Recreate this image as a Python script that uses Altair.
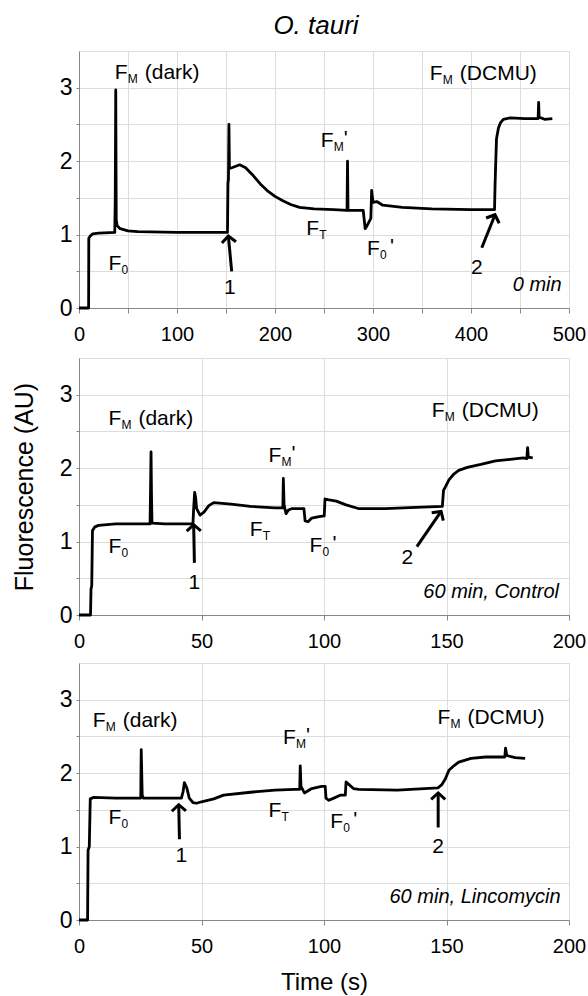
import math
import altair as alt
import pandas as pd

FONT = "Liberation Sans"

# ---------------- Trace data ----------------
# Panel 1: 0 min
t1 = [0, 9.8, 10, 11.5, 14, 20, 36.5, 37, 37.5, 38, 39, 42, 50, 60, 100, 151.5,
      152, 152.5, 153, 153.5, 156, 160, 164, 170, 178, 185, 192, 200, 208, 216,
      225, 240, 260, 273.5, 274, 274.5, 278, 290, 292, 293, 295, 297, 297.8, 298.6,
      300, 303.8, 310, 330, 360, 400, 424, 424.6, 425.3, 426, 428, 430, 433, 440,
      455, 468.5, 469, 469.5, 475, 483]
f1 = [0, 0, 0.95, 0.98, 1.01, 1.02, 1.03, 1.5, 2.97, 1.2, 1.12, 1.08, 1.05, 1.04,
      1.03, 1.03, 1.7, 1.75, 2.5, 1.9, 1.91, 1.93, 1.95, 1.91, 1.8, 1.69, 1.6,
      1.52, 1.46, 1.41, 1.37, 1.35, 1.34, 1.33, 2.0, 1.33, 1.33, 1.33, 1.08, 1.1,
      1.15, 1.2, 1.22, 1.6, 1.44, 1.45, 1.4, 1.37, 1.35, 1.34, 1.34, 1.7, 2.0, 2.3,
      2.45, 2.52, 2.57, 2.59, 2.58, 2.58, 2.8, 2.6, 2.57, 2.58]

# Panel 2: 60 min, Control
t2 = [0, 4.7, 4.9, 5.2, 5.5, 6.5, 8, 15, 29, 29.2, 29.4, 29.6, 29.8, 35, 46.5,
      46.8, 47.2, 47.6, 48, 49.4, 51, 53, 55, 62, 70, 80, 83.2, 83.4, 83.7, 84.5,
      85.5, 87, 91.8, 92.3, 93.5, 95, 98, 100.1, 100.4, 101.5, 105, 109, 114, 125,
      140, 148.3, 148.8, 149.5, 151, 153, 155, 158.5, 164, 170, 176, 181.4, 182.8,
      183.1, 183.4, 185.2]
f2 = [0, 0, 0.35, 0.4, 1.15, 1.2, 1.22, 1.24, 1.24, 1.7, 2.22, 1.6, 1.25, 1.24,
      1.24, 1.45, 1.67, 1.6, 1.45, 1.36, 1.4, 1.49, 1.53, 1.51, 1.48, 1.46, 1.46,
      1.86, 1.5, 1.38, 1.43, 1.45, 1.45, 1.28, 1.27, 1.32, 1.34, 1.35, 1.58, 1.57,
      1.55, 1.5, 1.45, 1.45, 1.47, 1.48, 1.7, 1.74, 1.84, 1.92, 1.97, 2.01, 2.05,
      2.1, 2.12, 2.14, 2.13, 2.28, 2.15, 2.14]

# Panel 3: 60 min, Lincomycin
t3 = [0, 3.5, 3.7, 4.2, 4.6, 6, 15, 25.2, 25.4, 25.8, 26.3, 35, 41.8, 42.5, 43,
      44, 45, 46.5, 48, 50, 55, 59, 70, 80, 88, 90.1, 90.3, 90.6, 92, 95, 99,
      100.5, 100.8, 102, 104, 106.6, 108.7, 109, 110, 112, 114.2, 130, 146.5, 148,
      149.5, 151, 153, 155, 160, 166, 173.8, 174.1, 174.6, 178, 182.1]
f3 = [0, 0, 0.95, 1.0, 1.65, 1.67, 1.66, 1.66, 2.32, 1.7, 1.66, 1.66, 1.66, 1.75,
      1.87, 1.8, 1.66, 1.6, 1.59, 1.61, 1.65, 1.7, 1.74, 1.77, 1.78, 1.78, 2.1,
      1.82, 1.73, 1.79, 1.82, 1.82, 1.66, 1.63, 1.66, 1.7, 1.7, 1.88, 1.85, 1.79,
      1.78, 1.77, 1.8, 1.84, 1.92, 2.04, 2.1, 2.15, 2.2, 2.22, 2.22, 2.34, 2.24,
      2.21, 2.2]

# ---------------- Annotations ----------------
# F-labels: x, y of the "F", subscript, bracket text, prime
p1_fx = [36.5, 358, 30, 232, 246.6, 294]
p1_fy = [3.2, 3.18, 0.6, 1.08, 2.27, 0.81]
p2_fx = [12, 144, 12, 69.7, 77.3, 94.1]
p2_fy = [2.67, 2.78, 0.93, 1.16, 2.17, 0.94]
p3_fx = [5.6, 146.3, 12, 77.3, 83.3, 102.5]
p3_fy = [2.71, 2.75, 1.39, 1.48, 2.48, 1.33]
f_sub = ["M", "M", "0", "T", "M", "0"]
f_paren = ["(dark)", "(DCMU)", "", "", "", ""]
f_prime = ["", "", "", "", "'", "'"]

# Arrows: tail (x, y) -> tip (x, y), and number label
p1_arrow_tail_x = [155.8, 411]
p1_arrow_tail_y = [0.5, 0.82]
p1_arrow_tip_x = [152.4, 424.5]
p1_arrow_tip_y = [0.98, 1.27]
p1_num_x = [154, 406]
p1_num_y = [0.27, 0.545]

p2_arrow_tail_x = [47.1, 137.9]
p2_arrow_tail_y = [0.71, 0.93]
p2_arrow_tip_x = [46.8, 147.8]
p2_arrow_tip_y = [1.23, 1.41]
p2_num_x = [47.1, 134]
p2_num_y = [0.44, 0.77]

p3_arrow_tail_x = [41, 146.6]
p3_arrow_tail_y = [1.10, 1.26]
p3_arrow_tip_x = [40.7, 146.6]
p3_arrow_tip_y = [1.57, 1.73]
p3_num_x = [41.8, 146.6]
p3_num_y = [0.87, 0.99]
num_text = ["1", "2"]

cond_text = ["0 min", "60 min, Control", "60 min, Lincomycin"]
cond_x = [492.5, 195.9, 196.6]
cond_y = [0.31, 0.32, 0.32]

W, H = 490, 257
YMAX = 3.5


def panel(t, f, xmax, xlabel_step, fx, fy, atx, aty, apx, apy, nx, ny, cond, cx, cy,
          title=None, ytitle_visible=False, xtitle=None):
    xs = alt.Scale(domain=[0, xmax], nice=False, zero=False)
    ys = alt.Scale(domain=[0, YMAX], nice=False)
    xvals = list(range(0, xmax + 1, 50))
    xaxis = alt.Axis(values=xvals, tickSize=5, labelPadding=11, labelFontSize=20,
                     labelExpr=f"datum.value % {xlabel_step} === 0 ? format(datum.value, 'd') : ''",
                     title=xtitle if xtitle else None, titleFontSize=24, titlePadding=14,
                     titleFontWeight="normal", labelFlush=False)
    yaxis = alt.Axis(values=[i * 0.5 for i in range(0, 7)], tickSize=3, labelPadding=4,
                     labelFontSize=23,
                     labelExpr="datum.value % 1 === 0 ? format(datum.value, 'd') : ''",
                     title="Fluorescence (AU)", titleFontSize=25, titlePadding=22,
                     titleFontWeight="normal",
                     titleOpacity=1 if ytitle_visible else 0)
    X = lambda field: alt.X(field, type="quantitative", scale=xs, axis=xaxis)
    Y = lambda field: alt.Y(field, type="quantitative", scale=ys, axis=yaxis)

    trace = pd.DataFrame({"t": t, "f": f})
    line = alt.Chart(trace).mark_line(color="black", strokeWidth=2.8, strokeJoin="round").encode(
        x=X("t"), y=Y("f"), order="t:Q")

    lab = pd.DataFrame({"x": fx, "y": fy, "sub": f_sub, "paren": f_paren, "prime": f_prime})
    base = alt.Chart(lab).encode(x=alt.X("x:Q", scale=xs), y=alt.Y("y:Q", scale=ys))
    tF = base.mark_text(text="F", align="left", baseline="middle", font=FONT, fontSize=21, color="black")
    tSub = base.mark_text(align="left", baseline="middle", font=FONT, fontSize=12, dx=13, dy=6,
                          color="black").encode(text="sub:N")
    tPar = base.mark_text(align="left", baseline="middle", font=FONT, fontSize=21, dx=30,
                          color="black").encode(text="paren:N")
    tPr = base.mark_text(align="left", baseline="middle", font=FONT, fontSize=21, dx=23, dy=-2,
                         color="black").encode(text="prime:N")

    sx = W / xmax
    sy = H / YMAX
    ang = []
    for a, b, c, d in zip(atx, aty, apx, apy):
        vx = (c - a) * sx
        vy = (d - b) * sy
        ang.append(math.degrees(math.atan2(vx, vy)) % 360)
    arr = pd.DataFrame({"x": atx, "y": aty, "x2": apx, "y2": apy, "ang": ang})
    shaft = alt.Chart(arr).mark_rule(color="black", strokeWidth=3).encode(
        x=alt.X("x:Q", scale=xs), y=alt.Y("y:Q", scale=ys), x2="x2:Q", y2="y2:Q")
    head = alt.Chart(arr).mark_point(shape="M -1 0.9 L 0 0 L 1 0.9", filled=False, size=200,
                                     strokeWidth=3, color="black", opacity=1).encode(
        x=alt.X("x2:Q", scale=xs), y=alt.Y("y2:Q", scale=ys), angle=alt.Angle("ang:Q", scale=None))
    nums = pd.DataFrame({"x": nx, "y": ny, "txt": num_text})
    tnum = alt.Chart(nums).mark_text(align="center", baseline="middle", font=FONT, fontSize=21,
                                     color="black").encode(
        x=alt.X("x:Q", scale=xs), y=alt.Y("y:Q", scale=ys), text="txt:N")

    cdf = pd.DataFrame({"x": [cx], "y": [cy], "txt": [cond]})
    tcond = alt.Chart(cdf).mark_text(align="right", baseline="middle", font=FONT, fontSize=20,
                                     fontStyle="italic", color="black").encode(
        x=alt.X("x:Q", scale=xs), y=alt.Y("y:Q", scale=ys), text="txt:N")

    ch = alt.layer(line, shaft, head, tnum, tF, tSub, tPar, tPr, tcond).properties(width=W, height=H)
    if title:
        ch = ch.properties(title=alt.Title(title, fontSize=26, fontStyle="italic", font=FONT,
                                           fontWeight="normal", anchor="middle", offset=12, dx=-8))
    return ch


p1 = panel(t1, f1, 500, 100, p1_fx, p1_fy, p1_arrow_tail_x, p1_arrow_tail_y, p1_arrow_tip_x,
           p1_arrow_tip_y, p1_num_x, p1_num_y, cond_text[0], cond_x[0], cond_y[0], title="O. tauri")
p2 = panel(t2, f2, 200, 50, p2_fx, p2_fy, p2_arrow_tail_x, p2_arrow_tail_y, p2_arrow_tip_x,
           p2_arrow_tip_y, p2_num_x, p2_num_y, cond_text[1], cond_x[1], cond_y[1], ytitle_visible=True)
p3 = panel(t3, f3, 200, 50, p3_fx, p3_fy, p3_arrow_tail_x, p3_arrow_tail_y, p3_arrow_tip_x,
           p3_arrow_tip_y, p3_num_x, p3_num_y, cond_text[2], cond_x[2], cond_y[2], xtitle="Time (s)")

chart = alt.vconcat(p1, alt.vconcat(p2, p3, spacing=10), spacing=12).properties(
    padding={"left": 11, "top": 12, "right": 0, "bottom": 0}
).configure_view(stroke="black", strokeWidth=1.3).configure_axis(
    labelFont=FONT, titleFont=FONT, labelColor="black", titleColor="black",
    domainColor="black", tickColor="black", domainWidth=1.3, tickWidth=1.3,
    grid=False, titleFontWeight="normal"
).configure(background="white")

chart.save("out.html", embed_options={"renderer": "svg", "actions": False})
